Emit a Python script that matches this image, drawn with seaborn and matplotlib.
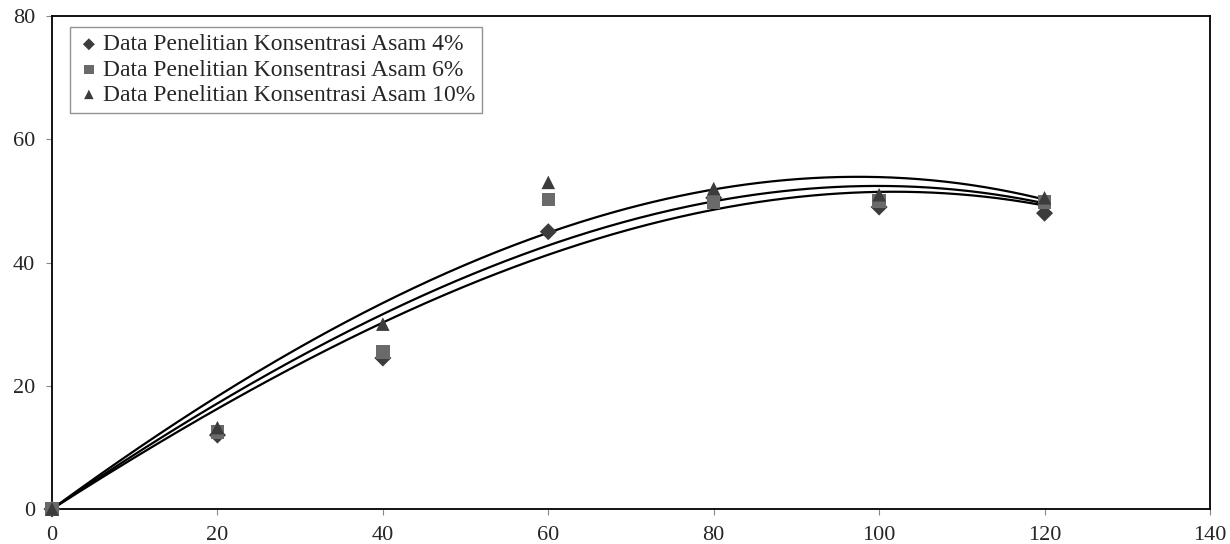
import numpy as np
import pandas as pd
import matplotlib
matplotlib.use('Agg')
import matplotlib.pyplot as plt
import seaborn as sns

# Data
waktu = [0, 20, 40, 60, 80, 100, 120]
asam_4 = [0, 12.0, 24.5, 45.0, 50.5, 49.0, 48.0]
asam_6 = [0, 12.5, 25.5, 50.2, 49.8, 50.0, 49.8]
asam_10 = [0, 13.2, 30.0, 53.0, 52.0, 51.0, 50.5]

# trend (model) curve values read at the same times
model_4 = [0, 15.5, 30.2, 42.0, 49.0, 50.3, 49.7]
model_6 = [0, 16.3, 31.6, 43.7, 50.0, 51.5, 50.0]
model_10 = [0, 17.6, 33.6, 45.3, 52.0, 53.2, 50.5]

labels = ['Data Penelitian Konsentrasi Asam 4%',
          'Data Penelitian Konsentrasi Asam 6%',
          'Data Penelitian Konsentrasi Asam 10%']

sns.set_style('white')
plt.rcParams['font.family'] = ['Liberation Serif', 'DejaVu Serif']

fig = plt.figure(figsize=(12.3, 5.44), dpi=100)
ax = fig.add_axes([0.0423, 0.0643, 0.9414, 0.9063])


def trend(x, y, order=3):
    # polynomial trend line through the origin
    x = np.asarray(x, float)
    y = np.asarray(y, float)
    A = np.column_stack([x ** k for k in range(1, order + 1)])
    coef, *_ = np.linalg.lstsq(A, y, rcond=None)
    xs = np.linspace(0, x.max(), 300)
    ys = sum(c * xs ** (k + 1) for k, c in enumerate(coef))
    return xs, ys


for m in [model_4, model_6, model_10]:
    xs, fit = trend(waktu, m)
    sns.lineplot(x=xs, y=fit, color='black', lw=1.6, ax=ax)

series = [(asam_4, 'D', '#3c3c3c', 75),
          (asam_6, 's', '#6a6a6a', 95),
          (asam_10, '^', '#3c3c3c', 95)]
for (ys, m, c, s), lab in zip(series, labels):
    sns.scatterplot(x=waktu, y=ys, marker=m, color=c, s=s, edgecolor='none',
                    ax=ax, label=lab, zorder=3, clip_on=False)

ax.set_xlim(0, 140)
ax.set_ylim(0, 80)
ax.set_xticks(range(0, 141, 20))
ax.set_yticks(range(0, 81, 20))
ax.tick_params(axis='both', labelsize=16, length=4, width=0.8, color='#888888',
               direction='out', bottom=True, left=True, pad=8)
for sp in ax.spines.values():
    sp.set_color('black')
    sp.set_linewidth(1.3)

leg = ax.legend(loc='upper left', bbox_to_anchor=(0.0155, 0.978), fontsize=17,
                frameon=True, fancybox=False, handletextpad=0.1,
                handlelength=1.0, borderpad=0.3, labelspacing=0.15,
                borderaxespad=0, markerscale=0.7)
leg.get_frame().set_edgecolor('#777777')
leg.get_frame().set_linewidth(1.0)

fig.savefig('out.png', dpi=100)
